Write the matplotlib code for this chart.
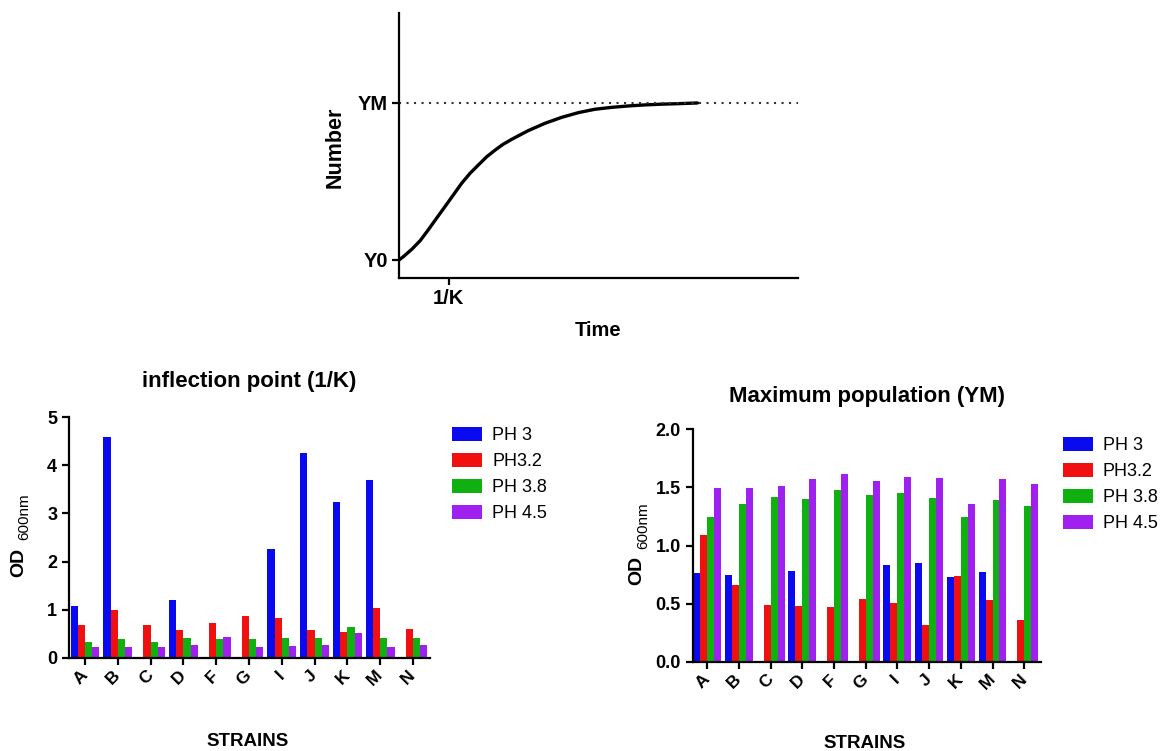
import matplotlib
matplotlib.use("Agg")
import matplotlib.pyplot as plt
import numpy as np

plt.rcParams['font.family'] = ['Liberation Sans', 'DejaVu Sans']

# growth curve (time, number)
curve_t = [0, 0.11, 0.32, 0.53, 0.73, 0.94, 1.15, 1.36, 1.57, 1.78, 1.99,
           2.20, 2.41, 2.61, 2.83, 3.03, 3.24, 3.66, 4.08, 4.50, 4.91,
           5.33, 5.75, 6.17, 6.58, 7.0, 7.48]
curve_n = [0.103, 0.122, 0.164, 0.213, 0.274, 0.341, 0.407, 0.474, 0.541,
           0.598, 0.646, 0.693, 0.731, 0.764, 0.793, 0.817, 0.842, 0.884,
           0.918, 0.945, 0.964, 0.975, 0.983, 0.989, 0.993, 0.996, 1.0]
y0_level = 0.103
ym_level = 1.0
inv_k = 1.25

strains = ['A', 'B', 'C', 'D', 'F', 'G', 'I', 'J', 'K', 'M', 'N']
series = ['PH 3', 'PH3.2', 'PH 3.8', 'PH 4.5']
colors = ['#0a0af0', '#f01010', '#10b010', '#a020f0']

# inflection point (1/K)
inf_ph3 = [1.07, 4.58, 0, 1.21, 0, 0, 2.27, 4.25, 3.23, 3.70, 0]
inf_ph32 = [0.68, 1.00, 0.68, 0.575, 0.73, 0.87, 0.83, 0.575, 0.54, 1.03, 0.60]
inf_ph38 = [0.33, 0.38, 0.33, 0.40, 0.38, 0.38, 0.41, 0.41, 0.645, 0.40, 0.42]
inf_ph45 = [0.215, 0.23, 0.23, 0.26, 0.44, 0.215, 0.25, 0.26, 0.52, 0.23, 0.26]

# maximum population (YM)
ym_ph3 = [0.76, 0.749, 0, 0.783, 0, 0, 0.829, 0.852, 0.729, 0.769, 0]
ym_ph32 = [1.088, 0.663, 0.485, 0.476, 0.468, 0.537, 0.505, 0.316, 0.737, 0.534, 0.359]
ym_ph38 = [1.245, 1.354, 1.42, 1.40, 1.478, 1.438, 1.452, 1.409, 1.245, 1.392, 1.343]
ym_ph45 = [1.498, 1.492, 1.509, 1.572, 1.618, 1.555, 1.59, 1.578, 1.354, 1.575, 1.527]

fig = plt.figure(figsize=(11.62, 7.51), dpi=100)
W, H = 1162.0, 751.0


def px_axes(l, t, r, b):
    return fig.add_axes([l / W, 1 - b / H, (r - l) / W, (b - t) / H])


def style(ax):
    for s in ['top', 'right']:
        ax.spines[s].set_visible(False)
    for s in ['left', 'bottom']:
        ax.spines[s].set_linewidth(1.6)
    ax.tick_params(width=1.6, length=5, direction='out')


def od_label(x_od, y_od, x_sub, y_sub):
    fig.text(x_od / W, 1 - y_od / H, 'OD', rotation=90, ha='center', va='center',
             fontsize=14, fontweight='bold')
    fig.text(x_sub / W, 1 - y_sub / H, '600nm', rotation=90, ha='center',
             va='center', fontsize=11)


# ---- top schematic
ax0 = px_axes(399, 13, 798, 278)
style(ax0)
ax0.plot(curve_t, curve_n, color='black', lw=2.4, solid_capstyle='round',
         solid_joinstyle='round')
ax0.plot([0, 10], [ym_level, ym_level], color='#333333', lw=1.5, ls=(0, (1, 2.6)))
ax0.set_xlim(0, 10)
ax0.set_ylim(0, 1.514)
ax0.set_xticks([inv_k])
ax0.set_xticklabels(['1/K'], fontsize=14.5, fontweight='bold')
ax0.set_yticks([y0_level, ym_level])
ax0.set_yticklabels(['Y0', 'YM'], fontsize=14.5, fontweight='bold')
ax0.tick_params(pad=3)
fig.text(335 / W, 1 - 147 / H, 'Number', rotation=90, ha='center', va='center',
         fontsize=15.5, fontweight='bold')
fig.text(598 / W, 1 - 331 / H, 'Time', ha='center', va='center',
         fontsize=14.5, fontweight='bold')


def bars(ax, vals, xlim, ylim, yticks, ytl):
    style(ax)
    x = np.arange(len(strains))
    w = 0.22
    for i, (v, c, lab) in enumerate(zip(vals, colors, series)):
        ax.bar(x + (i - 1.5) * w, v, width=w, color=c, label=lab, linewidth=0)
    ax.set_xlim(*xlim)
    ax.set_ylim(*ylim)
    ax.set_yticks(yticks)
    ax.set_yticklabels(ytl, fontsize=13, fontweight='bold')
    ax.set_xticks(x)
    ax.set_xticklabels(strains, rotation=45, ha='right', va='center',
                       rotation_mode='anchor', fontsize=12.5, fontweight='bold')
    ax.tick_params(axis='x', pad=6)


def legend(ax, x, y):
    ax.legend(loc='upper left', bbox_to_anchor=(x / W, 1 - y / H),
              bbox_transform=fig.transFigure, frameon=False, fontsize=13,
              handlelength=1.67, handleheight=0.78, handletextpad=0.55,
              labelspacing=0.5, borderpad=0, borderaxespad=0)


# ---- left: inflection point
ax1 = px_axes(69, 417.3, 430, 657.7)
bars(ax1, [inf_ph3, inf_ph32, inf_ph38, inf_ph45], (-0.49, 10.52), (0, 5),
     [0, 1, 2, 3, 4, 5], ['0', '1', '2', '3', '4', '5'])
ax1.set_title('inflection point (1/K)', fontsize=16, fontweight='bold', pad=21.5)
od_label(19, 562, 24, 517)
fig.text(248 / W, 1 - 742 / H, 'STRAINS', ha='center', va='center',
         fontsize=13.5, fontweight='bold')
legend(ax1, 452, 427)

# ---- right: maximum population
ax2 = px_axes(692.7, 429.3, 1040.7, 661.7)
bars(ax2, [ym_ph3, ym_ph32, ym_ph38, ym_ph45], (-0.46, 10.52), (0, 2.0),
     [0, 0.5, 1.0, 1.5, 2.0], ['0.0', '0.5', '1.0', '1.5', '2.0'])
ax2.set_title('Maximum population (YM)', fontsize=16, fontweight='bold', pad=19.5)
od_label(637, 570, 643, 526)
fig.text(865 / W, 1 - 743 / H, 'STRAINS', ha='center', va='center',
         fontsize=13.5, fontweight='bold')
legend(ax2, 1062.7, 437)

fig.savefig('out.png', dpi=100)
